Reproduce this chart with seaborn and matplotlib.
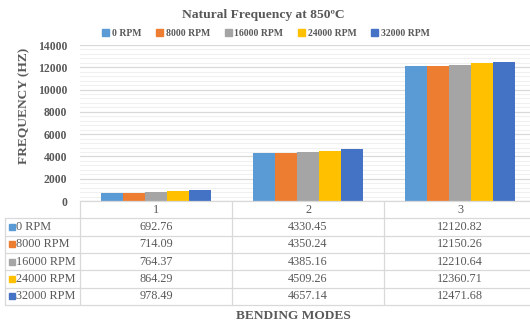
import matplotlib
matplotlib.use("Agg")
import matplotlib.pyplot as plt
from matplotlib.ticker import MultipleLocator
import seaborn as sns
import pandas as pd

# Natural frequencies (Hz) per bending mode for each rotational speed
modes = ["1", "2", "3"]
speeds = ["0 RPM", "8000 RPM", "16000 RPM", "24000 RPM", "32000 RPM"]
freq_0 = [692.76, 4330.45, 12120.82]
freq_8000 = [714.09, 4350.24, 12150.26]
freq_16000 = [764.37, 4385.16, 12210.64]
freq_24000 = [864.29, 4509.26, 12360.71]
freq_32000 = [978.49, 4657.14, 12471.68]
y_ticks = [0, 2000, 4000, 6000, 8000, 10000, 12000, 14000]

series = [freq_0, freq_8000, freq_16000, freq_24000, freq_32000]
colors = ["#5B9BD5", "#ED7D31", "#A5A5A5", "#FFC000", "#4472C4"]

df = pd.DataFrame(
    [(m, s, v) for s, vals in zip(speeds, series) for m, v in zip(modes, vals)],
    columns=["mode", "speed", "freq"],
)

sns.set_theme(style="white")
plt.rcParams["font.family"] = ["Liberation Serif", "DejaVu Serif"]
text_col = "#595959"
grid_major = "#D9D9D9"
grid_minor = "#F0F0F0"

W, H = 530, 324
fig = plt.figure(figsize=(W / 100, H / 100), dpi=100)
fig.patch.set_facecolor("white")

# chart area (pixel layout converted to figure fractions)
x0, x1 = 80, 536
y_top, y_base, y_tab = 45, 201, 305
ax = fig.add_axes([x0 / W, 1 - y_base / H, (x1 - x0) / W, (y_base - y_top) / H])

sns.barplot(data=df, x="mode", y="freq", hue="speed", order=modes,
            hue_order=speeds, palette=colors, saturation=1, width=0.72,
            gap=0, linewidth=0, errorbar=None, ax=ax)
ax.legend_.remove()

ax.set_xlim(-0.5, 2.5)
ax.set_ylim(0, 14000)
ax.set_yticks(y_ticks)
ax.yaxis.set_minor_locator(MultipleLocator(400))
ax.grid(axis="y", which="major", color=grid_major, linewidth=0.9)
ax.grid(axis="y", which="minor", color=grid_minor, linewidth=0.8)
ax.set_axisbelow(True)
for s in ["left", "right", "top"]:
    ax.spines[s].set_visible(False)
ax.spines["bottom"].set_color(grid_major)
ax.spines["bottom"].set_linewidth(0.9)
ax.tick_params(axis="both", which="both", length=0)
ax.set_xticklabels([])
ax.set_xlabel("")
ax.set_ylabel("")
for lab in ax.get_yticklabels():
    lab.set_fontweight("bold")
    lab.set_fontsize(8.4)
    lab.set_color(text_col)
ax.tick_params(axis="y", pad=9)

# data table beneath the bars, sharing the category axis
tax = fig.add_axes([x0 / W, 1 - y_tab / H, (x1 - x0) / W, (y_tab - y_base) / H],
                   sharex=ax)
tax.set_ylim(len(speeds) + 1, 0)
tax.axis("off")
px_per_unit = (x1 - x0) / 3.0
left_edge = -0.5 - (x0 - 5) / px_per_unit
line_kw = dict(color=grid_major, linewidth=0.9, clip_on=False)

for r in range(1, len(speeds) + 2):
    tax.plot([left_edge, 2.6], [r, r], **line_kw)
for b in [-0.5, 0.5, 1.5]:
    tax.plot([b, b], [0, len(speeds) + 1], **line_kw)
tax.plot([left_edge, left_edge], [1, len(speeds) + 1], **line_kw)

cell_fs = 8.8
for i, m in enumerate(modes):
    tax.text(i, 0.5, m, ha="center", va="center", fontsize=cell_fs, color=text_col)
for r, (name, vals, c) in enumerate(zip(speeds, series, colors), start=1):
    tax.plot([left_edge + 6.5 / px_per_unit], [r + 0.5], marker="s", markersize=4.4,
             color=c, linestyle="none", clip_on=False)
    tax.text(left_edge + 11.5 / px_per_unit, r + 0.5, name, ha="left", va="center",
             fontsize=cell_fs, color=text_col)
    for i, v in enumerate(vals):
        tax.text(i, r + 0.5, f"{v:.2f}", ha="center", va="center",
                 fontsize=cell_fs, color=text_col)

# titles and legend
fig.text(263 / W, 1 - 15 / H, "Natural Frequency at 850ºC", ha="center",
         va="center", fontsize=9.7, fontweight="bold", color=text_col)
fig.text(24 / W, 1 - 106 / H, "FREQUENCY (HZ)", ha="center", va="center",
         rotation=90, fontsize=9.6, fontweight="bold", color=text_col)
fig.text(293 / W, 1 - 316 / H, "BENDING MODES", ha="center", va="center",
         fontsize=9.6, fontweight="bold", color=text_col)

handles = [plt.Rectangle((0, 0), 1, 1, color=c) for c in colors]
leg = fig.legend(handles, speeds, ncol=5, loc="center",
                 bbox_to_anchor=(266 / W, 1 - 33 / H), frameon=False,
                 prop={"weight": "bold", "size": 7.0}, handlelength=0.7,
                 handleheight=0.7, handletextpad=0.3, columnspacing=1.5)
for t in leg.get_texts():
    t.set_color(text_col)

fig.savefig("out.png", dpi=100, facecolor="white")
